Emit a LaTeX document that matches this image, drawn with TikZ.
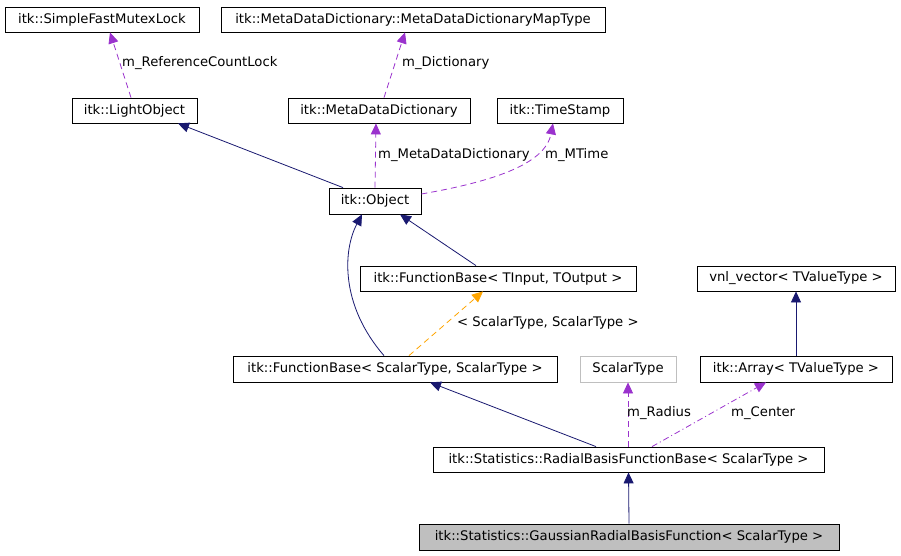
\documentclass[tikz,border=0pt]{standalone}
\usepackage{fontspec}
\setmainfont{DejaVu Sans}
\usepackage{xcolor}
\usetikzlibrary{arrows.meta}

\definecolor{edgeblue}{HTML}{191970}
\definecolor{edgepurple}{HTML}{9A32CD}
\definecolor{edgeorange}{HTML}{FFA500}
\definecolor{boxgray}{HTML}{BFBFBF}

\begin{document}
\begin{tikzpicture}[
    x=1pt, y=-1pt,
    every node/.style={font=\fontsize{13.2}{15}\selectfont},
    cls/.style={rectangle, draw=black, line width=0.8pt, inner sep=0pt,
                minimum height=25pt},
    ext/.style={cls, draw=boxgray},
    focus/.style={cls, fill=boxgray},
    lbl/.style={anchor=west, inner sep=0pt},
    inherit/.style={draw=edgeblue, line width=0.8pt,
                    -{Triangle[length=11pt, width=10pt]}},
    member/.style={draw=edgepurple, line width=0.8pt, dash pattern=on 6pt off 4pt,
                   -{Triangle[length=11pt, width=10pt]}},
    tmpl/.style={draw=edgeorange, line width=0.8pt, dash pattern=on 6pt off 4pt,
                 -{Triangle[length=11pt, width=10pt]}},
]
\useasboundingbox (0,0) rectangle (901,555);

\node [cls, minimum width=194pt] (mutex) at (102,19.5) {itk::SimpleFastMutexLock};
\node [cls, minimum width=384pt] (maptype) at (413,19.5) {itk::MetaDataDictionary::MetaDataDictionaryMapType};
\node [cls, minimum width=125pt] (light) at (134.5,110.5) {itk::LightObject};
\node [cls, minimum width=182pt] (mdd) at (379,110.5) {itk::MetaDataDictionary};
\node [cls, minimum width=126pt] (tstamp) at (560,110.5) {itk::TimeStamp};
\node [cls, minimum width=92pt, minimum height=26pt] (obj) at (375,201) {itk::Object};
\node [cls, minimum width=276pt] (fbio) at (498,278.5) {itk::FunctionBase< TInput, TOutput >};
\node [cls, minimum width=198pt] (vnl) at (796,278.5) {vnl\_vector< TValueType >};
\node [cls, minimum width=324pt, minimum height=26pt] (fbss) at (395,369) {itk::FunctionBase< ScalarType, ScalarType >};
\node [ext, minimum width=96pt, minimum height=26pt] (scalar) at (628,369) {ScalarType};
\node [cls, minimum width=192pt, minimum height=26pt] (arr) at (796,369) {itk::Array< TValueType >};
\node [cls, minimum width=391pt] (rbf) at (628.5,459.5) {itk::Statistics::RadialBasisFunctionBase< ScalarType >};
\node [focus, minimum width=420pt, minimum height=26pt] (gauss) at (629,537) {itk::Statistics::GaussianRadialBasisFunction< ScalarType >};

\draw [member] ([xshift=-3.5pt]light.north) -- ([xshift=8pt]mutex.south);
\node [lbl] (lrefcount) at (122,63) {m\_ReferenceCountLock};
\draw [member] ([xshift=5pt]mdd.north) -- ([xshift=-8pt]maptype.south);
\node [lbl] (ldict) at (402,63) {m\_Dictionary};

\draw [inherit] ([xshift=-32pt]obj.north) -- ([xshift=43.5pt]light.south);
\draw [member] (obj.north) -- ([xshift=-3pt]mdd.south);
\node [lbl] (lmdd) at (378,155) {m\_MetaDataDictionary};
\draw [member] ([yshift=7pt]obj.east) .. controls (490,182) and (545,165) .. ([xshift=-7pt]tstamp.south);
\node [lbl] (lmtime) at (545,155) {m\_MTime};

\draw [inherit] ([xshift=-22pt]fbio.north) -- ([xshift=25pt]obj.south);
\draw [inherit] ([xshift=-11pt]fbss.north) .. controls (340,305) and (343,250) .. ([xshift=-13pt]obj.south);
\draw [tmpl] ([xshift=14pt]fbss.north) -- ([xshift=-15pt]fbio.south);
\node [lbl] (ltmpl) at (457,323) {< ScalarType, ScalarType >};

\draw [inherit] (arr.north) -- (vnl.south);

\draw [inherit] ([xshift=-32.5pt]rbf.north) -- ([xshift=35pt]fbss.south);
\draw [member] ([xshift=-0.5pt]rbf.north) -- (scalar.south);
\node [lbl] (lradius) at (627,413) {m\_Radius};
\draw [member, dash pattern=on 6pt off 3pt on 1pt off 3pt] ([xshift=23.5pt]rbf.north) -- ([xshift=-30pt]arr.south);
\node [lbl] (lcenter) at (731,413) {m\_Center};

\draw [inherit] (gauss.north) -- (rbf.south);

\end{tikzpicture}
\end{document}
